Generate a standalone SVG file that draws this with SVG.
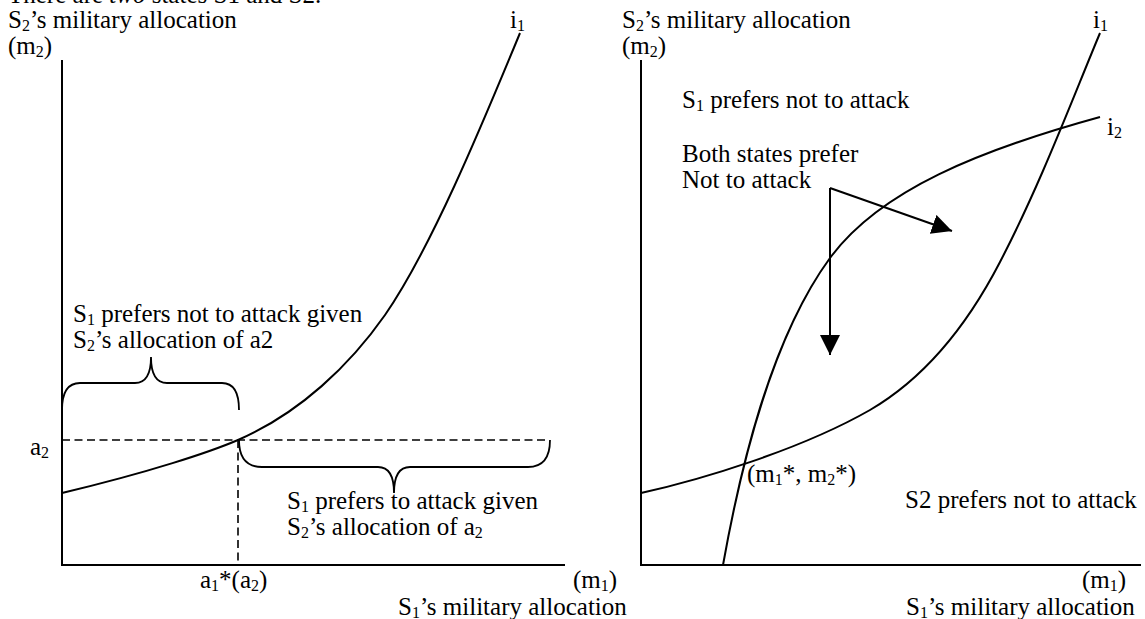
<svg xmlns="http://www.w3.org/2000/svg" width="1145" height="619" viewBox="0 0 1145 619" font-family="'Liberation Serif', 'Times New Roman', Times, 'DejaVu Serif', serif">
<style>
text{font-family:'Liberation Serif','Times New Roman',Times,'DejaVu Serif',serif;font-size:25px;fill:#000}
.sub{font-size:16px}
.ax{stroke:#000;stroke-width:2;fill:none}
.cv{stroke:#000;stroke-width:2;fill:none}
.ds{stroke:#000;stroke-width:1.6;fill:none;stroke-dasharray:8 4.5}
.br{stroke:#000;stroke-width:1.8;fill:none}
.ar{stroke:#000;stroke-width:2;fill:none;marker-end:url(#ah)}
</style>
<defs>
<marker id="ah" markerUnits="userSpaceOnUse" markerWidth="22" markerHeight="22" refX="20" refY="10" orient="auto" viewBox="0 0 22 22">
<path d="M0,0 L20,10 L0,20 Z" fill="#000"/>
</marker>
</defs>
<text x="8" y="3">There are <tspan font-style="italic">two</tspan> states S1 and S2.</text>
<g id="left-chart">
<g id="left-axes">
<path class="ax" d="M62,60 V565 H565"/>
<text x="8" y="28">S<tspan class="sub" dy="3">2</tspan><tspan dy="-3">’s military allocation</tspan></text>
<text x="8" y="54">(m<tspan class="sub" dy="3">2</tspan><tspan dy="-3">)</tspan></text>
<text x="573" y="588">(m<tspan class="sub" dy="3">1</tspan><tspan dy="-3">)</tspan></text>
<text x="398" y="615">S<tspan class="sub" dy="3">1</tspan><tspan dy="-3">’s military allocation</tspan></text>
</g>
<g id="left-i1">
<path class="cv" d="M62,493 C150,472 210,452 238,440 C300,413 350,365 385,315 C430,250 480,130 520,33"/>
<text x="510" y="28">i<tspan class="sub" dy="3">1</tspan></text>
</g>
<g id="left-a2">
<path class="ds" d="M62,440 H548"/>
<path class="ds" d="M238,440 V565"/>
<text x="30" y="455">a<tspan class="sub" dy="3">2</tspan></text>
<text x="200" y="588">a<tspan class="sub" dy="3">1</tspan><tspan dy="-3">*(a</tspan><tspan class="sub" dy="3">2</tspan><tspan dy="-3">)</tspan></text>
</g>
<g id="left-brace-top">
<path class="br" d="M62,410 Q62,383 80,383 H135 Q151,383 151,357 Q151,383 167,383 H222 Q239,383 239,410"/>
<text x="73" y="322">S<tspan class="sub" dy="3">1</tspan><tspan dy="-3"> prefers not to attack given</tspan></text>
<text x="73" y="348">S<tspan class="sub" dy="3">2</tspan><tspan dy="-3">’s allocation of a2</tspan></text>
</g>
<g id="left-brace-bottom">
<path class="br" d="M239,440 Q239,467 262,467 H378 Q394,467 394,493 Q394,467 410,467 H528 Q550,467 550,440"/>
<text x="287" y="509">S<tspan class="sub" dy="3">1</tspan><tspan dy="-3"> prefers to attack given</tspan></text>
<text x="287" y="535">S<tspan class="sub" dy="3">2</tspan><tspan dy="-3">’s allocation of a</tspan><tspan class="sub" dy="3">2</tspan></text>
</g>
</g>
<g id="right-chart">
<g id="right-axes">
<path class="ax" d="M641,60 V565 H1141"/>
<text x="622" y="28">S<tspan class="sub" dy="3">2</tspan><tspan dy="-3">’s military allocation</tspan></text>
<text x="622" y="54">(m<tspan class="sub" dy="3">2</tspan><tspan dy="-3">)</tspan></text>
<text x="1082" y="588">(m<tspan class="sub" dy="3">1</tspan><tspan dy="-3">)</tspan></text>
<text x="906" y="615">S<tspan class="sub" dy="3">1</tspan><tspan dy="-3">’s military allocation</tspan></text>
</g>
<g id="right-i1">
<path class="cv" d="M641,493 C700,480 800,450 870,410 C930,375 970,320 1000,262 C1040,185 1070,105 1100,33"/>
<text x="1093" y="28">i<tspan class="sub" dy="3">1</tspan></text>
</g>
<g id="right-i2">
<path class="cv" d="M723,565 C740,470 770,340 830,258 C880,190 980,150 1100,117"/>
<text x="1107" y="135">i<tspan class="sub" dy="3">2</tspan></text>
</g>
<g id="right-labels">
<text x="682" y="108">S<tspan class="sub" dy="3">1</tspan><tspan dy="-3"> prefers not to attack</tspan></text>
<text x="682" y="162">Both states prefer</text>
<text x="682" y="188">Not to attack</text>
<text x="747" y="482">(m<tspan class="sub" dy="3">1</tspan><tspan dy="-3">*, m</tspan><tspan class="sub" dy="3">2</tspan><tspan dy="-3">*)</tspan></text>
<text x="905" y="508">S2 prefers not to attack</text>
</g>
</g>
<g id="connectors">
<path class="ar" d="M830,188 V355"/>
<path class="ar" d="M830,188 L952,231"/>
</g>
</svg>
